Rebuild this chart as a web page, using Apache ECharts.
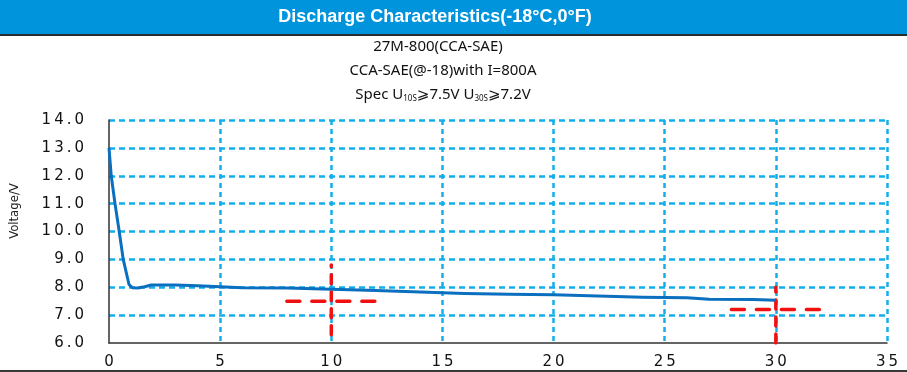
<!DOCTYPE html>
<html><head><meta charset="utf-8">
<script src="https://cdn.jsdelivr.net/npm/echarts@6/dist/echarts.min.js"></script>
<style>html,body{margin:0;padding:0;background:#fff}#c{width:907px;height:372px}</style>
</head><body><div id="c"></div>
<script>
const titleText = 'Discharge Characteristics(-18\u00B0C,0\u00B0F)';
const subLine1 = '27M-800(CCA-SAE)';
const subLine2 = 'CCA-SAE(@-18)with I=800A';
const yAxisName = 'Voltage/V';
const xTicks = [0, 5, 10, 15, 20, 25, 30, 35];
const yTicks = [6, 7, 8, 9, 10, 11, 12, 13, 14];
const timeS = [0, 0.1, 0.27, 0.46, 0.64, 0.9, 1.05, 1.3, 1.6, 1.9, 3, 4, 5, 6, 8, 10, 12, 14, 16, 18, 20, 22, 24, 26, 27, 29, 30];
const voltage = [13.0, 12.0, 11.0, 10.0, 9.0, 8.1, 7.98, 7.97, 8.02, 8.08, 8.08, 8.05, 8.02, 7.98, 7.97, 7.93, 7.88, 7.83, 7.78, 7.75, 7.73, 7.69, 7.64, 7.62, 7.57, 7.56, 7.53];
// spec markers: [centre time, centre voltage, vertical from, vertical to, horizontal from, horizontal to]
const spec10 = [10, 7.5, 6.3, 8.8, 8, 12];
const spec30 = [30, 7.2, 6.0, 8.0, 28, 32];

const chart = echarts.init(document.getElementById('c'), null, {renderer: 'canvas'});
const thin = '\u2009';
const spaced = s => s.split('').join(thin);
const blue = '#14aeea';
function crossSeries(s) {
  return [
    {type: 'line', data: [[s[0], s[2]], [s[0], s[3]]], symbol: 'none', silent: true, z: 4,
     lineStyle: {color: '#f01010', width: 3.5, type: [9, 8], cap: 'round'}},
    {type: 'line', data: [[s[4], s[1]], [s[5], s[1]]], symbol: 'none', silent: true, z: 4,
     lineStyle: {color: '#f01010', width: 3.5, type: [13, 12], cap: 'round'}}
  ];
}
const option = {
  animation: false,
  graphic: [
    {type: 'rect', shape: {x: 0, y: 0, width: 907, height: 35}, style: {fill: '#0094dc'}},
    {type: 'rect', shape: {x: 0, y: 34, width: 907, height: 2}, style: {fill: '#2b2b2b'}},
    {type: 'rect', shape: {x: 0, y: 370, width: 907, height: 2}, style: {fill: '#3a3a3a'}},
    {type: 'text', x: 435, y: 17, style: {text: titleText, fill: '#fff', font: 'bold 18px "Liberation Sans", Arial', textAlign: 'center', textVerticalAlign: 'middle'}},
    {type: 'text', x: 438, y: 47, style: {text: subLine1, fill: '#111', font: '15px "Noto Sans"', textAlign: 'center', textVerticalAlign: 'middle'}},
    {type: 'text', x: 443, y: 71, style: {text: subLine2, fill: '#111', font: '15px "Noto Sans"', textAlign: 'center', textVerticalAlign: 'middle'}},
    {type: 'text', x: 443, y: 95, style: {
      text: 'Spec U{s|10S}\u2A7E7.5V U{s|30S}\u2A7E7.2V', fill: '#111', font: '15px "Noto Sans", "DejaVu Sans"',
      textAlign: 'center', textVerticalAlign: 'middle',
      rich: {s: {fontSize: 8, fontFamily: 'Noto Sans', fill: '#111', verticalAlign: 'bottom', padding: [6, 0, 0, 0]}}
    }},
    {type: 'text', x: 15, y: 211, rotation: Math.PI / 2, style: {text: yAxisName, fill: '#222', font: '13px "Liberation Sans Narrow", "DejaVu Sans Condensed", "Liberation Sans"', textAlign: 'center', textVerticalAlign: 'middle'}}
  ],
  grid: {left: 109, right: 20, top: 120, bottom: 29, containLabel: false},
  xAxis: {
    type: 'value', min: xTicks[0], max: xTicks[xTicks.length - 1], interval: 5,
    axisLine: {show: true, onZero: false, lineStyle: {color: '#333', width: 1.5}},
    axisTick: {show: false},
    axisLabel: {margin: 12, color: '#111', fontSize: 15, fontFamily: 'DejaVu Sans', formatter: v => spaced(String(v))},
    splitLine: {show: true, showMinLine: false, lineStyle: {color: blue, width: 2.5, type: [5, 4]}}
  },
  yAxis: {
    type: 'value', min: yTicks[0], max: yTicks[yTicks.length - 1], interval: 1,
    axisLine: {show: true, onZero: false, lineStyle: {color: '#333', width: 1.5}},
    axisTick: {show: false},
    axisLabel: {margin: 25, color: '#111', fontSize: 15, fontFamily: 'DejaVu Sans', formatter: v => spaced(v.toFixed(1))},
    splitLine: {show: true, showMinLine: false, lineStyle: {color: blue, width: 2.5, type: [6, 4]}}
  },
  series: [
    {type: 'line', data: timeS.map((t, i) => [t, voltage[i]]), symbol: 'none', smooth: false, z: 5,
     lineStyle: {color: '#0a6fbf', width: 3, join: 'round'}},
    ...crossSeries(spec10),
    ...crossSeries(spec30)
  ]
};
chart.setOption(option);
</script></body></html>
